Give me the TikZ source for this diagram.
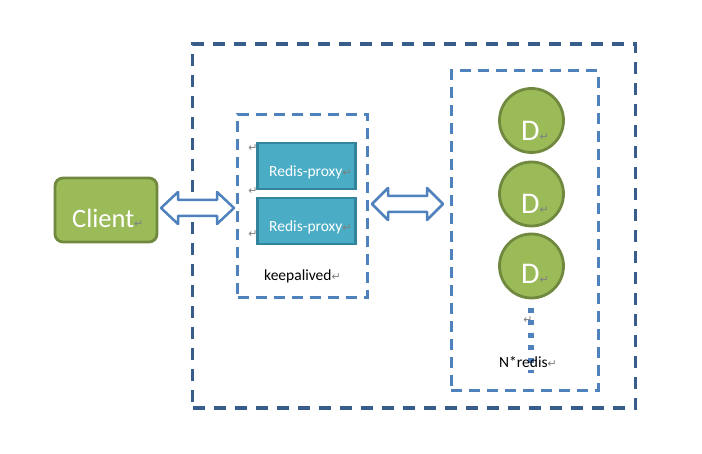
\documentclass[tikz,border=0pt]{standalone}
\usepackage{fontspec}
\setmainfont{Carlito}
\newfontfamily\symfont{DejaVu Sans}
\definecolor{outerblue}{HTML}{385D8A}
\definecolor{innerblue}{HTML}{4F81BD}
\definecolor{leafgreen}{HTML}{9BBB59}
\definecolor{leafedge}{HTML}{71893F}
\definecolor{proxyfill}{HTML}{4BACC6}
\definecolor{proxyedge}{HTML}{31849B}
\newcommand{\retmark}{{\symfont\fontsize{11}{11}\selectfont\color{gray}↵}}
\tikzset{
  outerbox/.style={draw=outerblue, line width=3.2pt, dash pattern=on 12pt off 9pt, inner sep=0pt},
  innerbox/.style={draw=innerblue, line width=3pt, dash pattern=on 11pt off 7pt, inner sep=0pt},
  clientbox/.style={draw=leafedge, fill=leafgreen, line width=2.8pt, rounded corners=8pt, inner sep=0pt, minimum width=102pt, minimum height=64pt},
  proxybox/.style={draw=proxyedge, fill=proxyfill, line width=2.8pt, inner sep=0pt, minimum width=98pt, minimum height=46pt},
  dnode/.style={circle, draw=leafedge, fill=leafgreen, line width=2.8pt, inner sep=0pt, minimum size=64pt},
  wlabel/.style={text=white, inner sep=0pt, anchor=base west},
  blabel/.style={text=black, inner sep=0pt, anchor=base west},
  blockarrow/.style={draw=innerblue, fill=white, line width=2.5pt, line join=round},
  dotline/.style={draw=innerblue, line width=5.5pt, dash pattern=on 5pt off 7.5pt}
}
\begin{document}
\begin{tikzpicture}[x=1pt,y=-1pt]
\useasboundingbox[fill=white] (0,0) rectangle (702,454);
% frames
\node[outerbox, minimum width=443pt, minimum height=364pt] (outer) at (414,226) {};
\node[innerbox, minimum width=130pt, minimum height=183pt] (proxyframe) at (302.5,206) {};
\node[innerbox, minimum width=147pt, minimum height=320pt] (redisframe) at (524.5,231) {};
% client
\node[clientbox] (client) at (106,210) {};
\node[wlabel, font=\fontsize{26.5}{26.5}\selectfont] (clienttxt) at (72,228) {Client\retmark};
% proxies
\node[proxybox] (p1) at (306.5,166) {};
\node[proxybox] (p2) at (306.5,221) {};
\node[wlabel, font=\fontsize{15.5}{15.5}\selectfont] (p1txt) at (269,177) {Redis-proxy\retmark};
\node[wlabel, font=\fontsize{15.5}{15.5}\selectfont] (p2txt) at (269,232) {Redis-proxy\retmark};
\node[inner sep=0pt] (r1) at (253,148) {\retmark};
\node[inner sep=0pt] (r2) at (253,191) {\retmark};
\node[inner sep=0pt] (r3) at (253,234) {\retmark};
\node[blabel, font=\fontsize{15.5}{15.5}\selectfont] (keep) at (264,281) {keepalived\retmark};
% redis nodes
\node[dnode] (d1) at (531.5,120.5) {};
\node[dnode] (d2) at (531.5,194) {};
\node[dnode] (d3) at (531.5,266) {};
\node[wlabel, font=\fontsize{30}{30}\selectfont] (d1txt) at (521,141) {D\retmark};
\node[wlabel, font=\fontsize{30}{30}\selectfont] (d2txt) at (521,214) {D\retmark};
\node[wlabel, font=\fontsize{30}{30}\selectfont] (d3txt) at (521,284) {D\retmark};
\coordinate (dotstart) at (531,308);
\coordinate (dotend) at (531,373);
\draw[dotline] (dotstart) -- (dotend);
\node[inner sep=0pt] (r4) at (528,320) {\retmark};
\node[blabel, font=\fontsize{15.5}{15.5}\selectfont] (nredis) at (499,368) {N*redis\retmark};
% block arrows
\draw[blockarrow] (161,208) -- (178,192) -- (178,200) -- (217,200) -- (217,192) -- (234,208) -- (217,224) -- (217,216) -- (178,216) -- (178,224) -- cycle;
\draw[blockarrow] (372,204) -- (388,188) -- (388,196) -- (427,196) -- (427,188) -- (443,204) -- (427,220) -- (427,212) -- (388,212) -- (388,220) -- cycle;
\end{tikzpicture}
\end{document}
